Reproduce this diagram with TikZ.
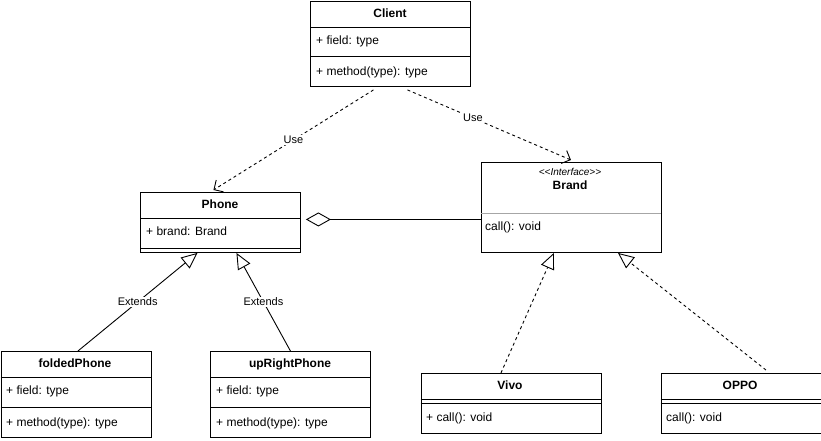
\documentclass[tikz,border=0pt]{standalone}
\usepackage{fontspec}
\setmainfont{Liberation Sans}
\usetikzlibrary{arrows.meta}

\tikzset{
    clase/.style={draw, line width=0.9pt, anchor=north west, inner sep=0pt},
    titulo/.style={font=\fontsize{12}{14}\selectfont\bfseries, inner sep=0pt, text height=8.6pt, text depth=2.5pt},
    campo/.style={font=\fontsize{12}{14}\selectfont, anchor=west, inner sep=0pt, text height=8.6pt, text depth=2.5pt},
    etiqueta/.style={font=\fontsize{11}{13}\selectfont, fill=white, inner sep=1pt},
    usa/.style={line width=0.9pt, dash pattern=on 3pt off 3pt, -{Straight Barb[length=7pt,width=14pt]}},
    hereda/.style={line width=0.9pt, -{Triangle[open,length=16pt,width=14pt]}},
    implementa/.style={hereda, dash pattern=on 3pt off 3pt},
    agrega/.style={line width=0.9pt, -{Diamond[open,length=25pt,width=14pt]}, shorten >=5pt}
}

\begin{document}
\begin{tikzpicture}[x=1pt,y=-1pt]
\useasboundingbox (0,0) rectangle (821,440);

% clases
\node[clase, minimum width=160pt, minimum height=85pt] (client) at (310,1) {};
\draw[line width=0.9pt] ([yshift=-26pt]client.north west) -- ([yshift=-26pt]client.north east);
\draw[line width=0.9pt] ([yshift=-55pt]client.north west) -- ([yshift=-55pt]client.north east);
\node[titulo] (clientT) at (390,14) {Client};
\node[campo] (clientF) at (316,41) {+ field: type};
\node[campo] (clientM) at (316,72) {+ method(type): type};

\node[clase, minimum width=160pt, minimum height=60pt] (phone) at (140,192) {};
\draw[line width=0.9pt] ([yshift=-26pt]phone.north west) -- ([yshift=-26pt]phone.north east);
\draw[line width=0.9pt] ([yshift=-56pt]phone.north west) -- ([yshift=-56pt]phone.north east);
\node[titulo] (phoneT) at (220,205) {Phone};
\node[campo] (phoneF) at (146,232) {+ brand: Brand};

\node[clase, minimum width=180pt, minimum height=90pt] (brand) at (480.5,162) {};
\draw[line width=0.9pt, gray!70] ([yshift=-51pt]brand.north west) -- ([yshift=-51pt]brand.north east);
\node[font=\fontsize{10}{12}\selectfont\itshape, inner sep=0pt] (brandS) at (570,172) {<{}<Interface>{}>};
\node[titulo] (brandT) at (570,186) {Brand};
\node[campo] (brandM) at (485,227) {call(): void};

\node[clase, minimum width=150pt, minimum height=86pt] (folded) at (0.5,351) {};
\draw[line width=0.9pt] ([yshift=-26pt]folded.north west) -- ([yshift=-26pt]folded.north east);
\draw[line width=0.9pt] ([yshift=-56pt]folded.north west) -- ([yshift=-56pt]folded.north east);
\node[titulo] (foldedT) at (75,364) {foldedPhone};
\node[campo] (foldedF) at (6,391) {+ field: type};
\node[campo] (foldedM) at (6,423) {+ method(type): type};

\node[clase, minimum width=160pt, minimum height=86pt] (upright) at (210,351) {};
\draw[line width=0.9pt] ([yshift=-26pt]upright.north west) -- ([yshift=-26pt]upright.north east);
\draw[line width=0.9pt] ([yshift=-56pt]upright.north west) -- ([yshift=-56pt]upright.north east);
\node[titulo] (uprightT) at (290,364) {upRightPhone};
\node[campo] (uprightF) at (216,391) {+ field: type};
\node[campo] (uprightM) at (216,423) {+ method(type): type};

\node[clase, minimum width=180pt, minimum height=60pt] (vivo) at (420.5,373) {};
\draw[line width=0.9pt] ([yshift=-26pt]vivo.north west) -- ([yshift=-26pt]vivo.north east);
\draw[line width=0.9pt] ([yshift=-30pt]vivo.north west) -- ([yshift=-30pt]vivo.north east);
\node[titulo] (vivoT) at (510,386) {Vivo};
\node[campo] (vivoM) at (426,418) {+ call(): void};

\node[clase, minimum width=160pt, minimum height=60pt] (oppo) at (660.5,373) {};
\draw[line width=0.9pt] ([yshift=-26pt]oppo.north west) -- ([yshift=-26pt]oppo.north east);
\draw[line width=0.9pt] ([yshift=-30pt]oppo.north west) -- ([yshift=-30pt]oppo.north east);
\node[titulo] (oppoT) at (740,386) {OPPO};
\node[campo] (oppoM) at (666,418) {call(): void};

% relaciones
\draw[usa] ([xshift=-17pt,yshift=-3pt]client.south) -- node[etiqueta] {Use} ([xshift=-7pt,yshift=2pt]phone.north);
\draw[usa] ([xshift=17pt,yshift=-3pt]client.south) -- node[etiqueta, pos=0.4] {Use} ([yshift=2pt]brand.north);
\draw[hereda] ([xshift=2pt]folded.north) -- node[etiqueta] {Extends} ([xshift=-23pt]phone.south);
\draw[hereda] (upright.north) -- node[etiqueta] {Extends} ([xshift=16pt]phone.south);
\draw[implementa] ([xshift=-10pt]vivo.north) -- ([xshift=-17pt]brand.south);
\draw[implementa] ([xshift=25pt,yshift=3pt]oppo.north) -- ([xshift=47pt]brand.south);
\draw[agrega] ([yshift=-12pt]brand.west) -- ([yshift=3pt]phone.east);
\end{tikzpicture}
\end{document}
